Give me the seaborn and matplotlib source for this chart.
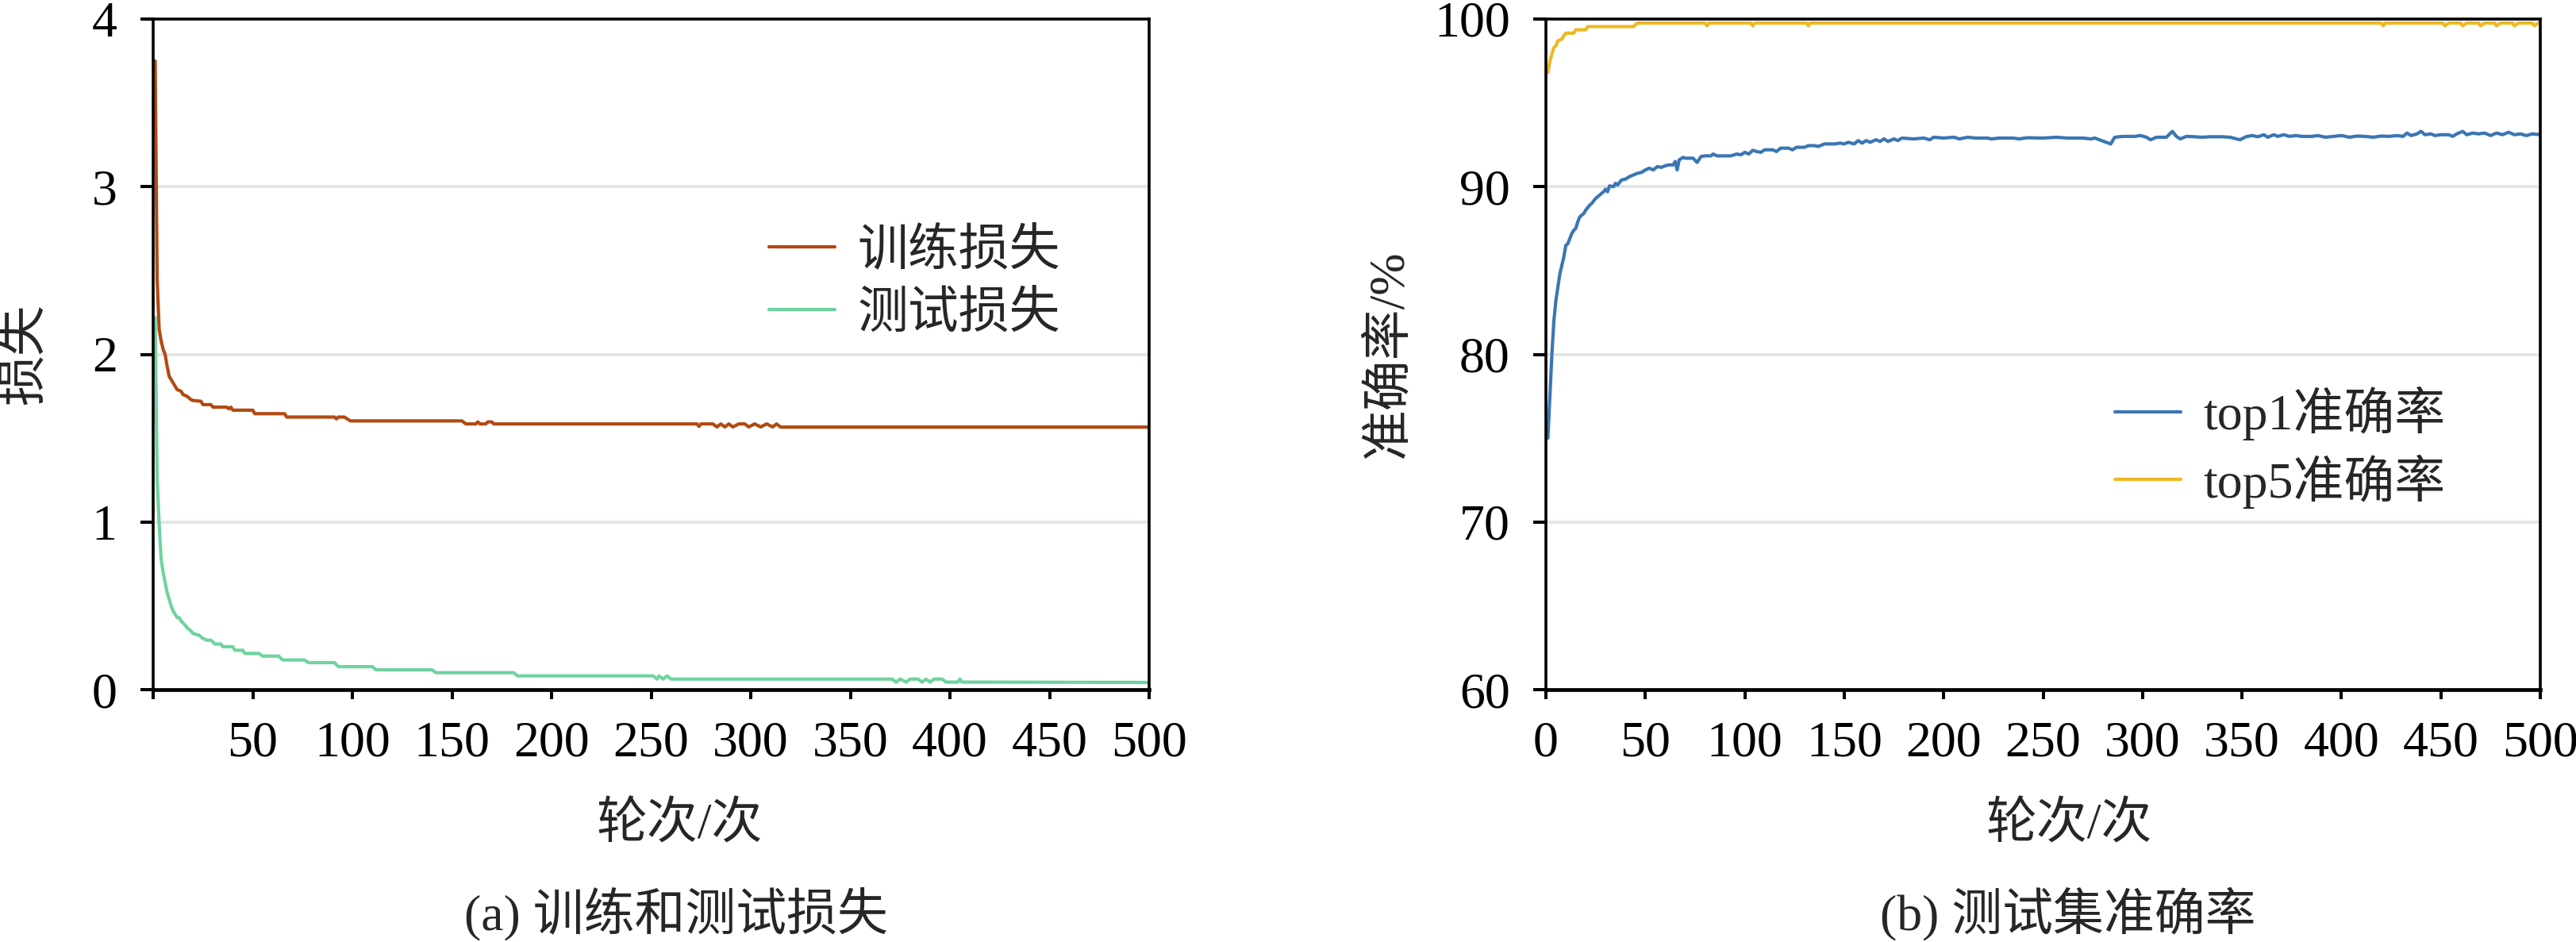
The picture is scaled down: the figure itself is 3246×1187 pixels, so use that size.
import matplotlib
matplotlib.use('Agg')
import matplotlib.pyplot as plt
import seaborn as sns

# ---- data ----
train_epoch = [1, 2, 3, 4, 5, 6, 7, 8, 9, 11, 12, 14, 15, 17, 19, 20, 24, 25, 29, 30, 37, 38, 39, 40,
               50, 51, 66, 67, 91, 92, 93, 96, 99, 155, 157, 162, 163, 164, 167, 168, 170, 171, 273, 274,
               275, 281, 283, 285, 287, 289, 291, 294, 297, 299, 302, 305, 308, 311, 313, 315, 500]
train_loss = [3.75, 2.45, 2.15, 2.08, 2.03, 2.0, 1.93, 1.87, 1.85, 1.81, 1.79, 1.78, 1.76, 1.75, 1.73,
              1.725, 1.72, 1.70, 1.70, 1.685, 1.685, 1.675, 1.685, 1.667, 1.667, 1.646, 1.646, 1.626,
              1.626, 1.615, 1.626, 1.626, 1.603, 1.603, 1.585, 1.585, 1.597, 1.585, 1.585, 1.597, 1.597,
              1.585, 1.585, 1.57, 1.585, 1.585, 1.567, 1.585, 1.567, 1.585, 1.567, 1.585, 1.585, 1.567,
              1.585, 1.567, 1.585, 1.567, 1.585, 1.566, 1.566]

test_epoch = [1, 2, 3, 4, 5, 6, 7, 8, 9, 10, 12, 13, 14, 16, 17, 19, 20, 23, 25, 27, 29, 31, 34, 35,
              40, 41, 45, 46, 53, 55, 63, 65, 76, 78, 91, 93, 110, 112, 140, 142, 181, 183, 251, 253,
              254, 256, 258, 260, 371, 373, 375, 378, 380, 384, 386, 388, 390, 392, 396, 398, 404, 405,
              406, 500]
test_loss = [2.22, 1.26, 0.99, 0.78, 0.70, 0.64, 0.58, 0.54, 0.50, 0.47, 0.43, 0.43, 0.41, 0.385, 0.37,
             0.35, 0.335, 0.325, 0.305, 0.295, 0.295, 0.272, 0.272, 0.256, 0.256, 0.235, 0.235, 0.216,
             0.216, 0.20, 0.20, 0.177, 0.177, 0.161, 0.161, 0.137, 0.137, 0.118, 0.118, 0.101, 0.101,
             0.082, 0.082, 0.063, 0.082, 0.063, 0.082, 0.063, 0.063, 0.045, 0.063, 0.045, 0.063, 0.063,
             0.045, 0.063, 0.045, 0.063, 0.063, 0.045, 0.045, 0.063, 0.045, 0.043]

top1_epoch = [1, 2, 3, 4, 5, 6, 7, 8, 9, 10, 11, 12, 13, 14, 15, 16, 17, 18, 19, 20, 22, 23, 25, 27,
              29, 30, 31, 32, 34, 35, 36, 38, 40, 42, 44, 46, 48, 50, 52, 54, 56, 58, 60, 62, 64, 65,
              66, 67, 69, 70, 74, 76, 78, 80, 83, 84, 86, 93, 96, 98, 100, 102, 104, 106, 108, 110,
              114, 116, 118, 122, 124, 126, 130, 132, 135, 137, 140, 145, 148, 150, 152, 155, 157,
              159, 161, 163, 166, 168, 170, 172, 175, 177, 179, 185, 190, 193, 195, 200, 205, 208,
              212, 216, 222, 224, 228, 235, 238, 242, 250, 257, 262, 270, 274, 276, 284, 286, 290,
              296, 299, 302, 304, 307, 312, 315, 317, 319, 322, 326, 330, 334, 340, 344, 349, 352,
              355, 358, 361, 363, 366, 368, 371, 374, 377, 380, 385, 388, 392, 396, 400, 404, 408,
              412, 416, 420, 424, 428, 431, 433, 435, 438, 440, 442, 445, 447, 450, 454, 456, 458,
              461, 463, 466, 469, 472, 475, 478, 481, 484, 487, 490, 493, 496, 500]
top1_acc = [75.0, 77.5, 80.0, 82.0, 83.2, 84.0, 84.8, 85.3, 85.8, 86.5, 86.6, 86.9, 87.2, 87.4, 87.5,
            87.9, 88.2, 88.3, 88.4, 88.6, 88.9, 89.0, 89.3, 89.5, 89.7, 89.85, 89.7, 90.05, 90.0,
            90.2, 90.1, 90.4, 90.45, 90.6, 90.7, 90.8, 90.85, 91.0, 91.1, 91.0, 91.2, 91.15, 91.25,
            91.3, 91.3, 91.5, 91.0, 91.6, 91.75, 91.7, 91.7, 91.45, 91.8, 91.84, 91.84, 91.95, 91.84,
            91.84, 91.95, 91.9, 92.05, 91.95, 92.17, 92.1, 92.05, 92.2, 92.2, 92.1, 92.3, 92.3, 92.2,
            92.35, 92.35, 92.45, 92.45, 92.4, 92.55, 92.55, 92.6, 92.55, 92.65, 92.55, 92.75, 92.6,
            92.75, 92.65, 92.8, 92.7, 92.85, 92.7, 92.85, 92.75, 92.9, 92.85, 92.9, 92.8, 92.95,
            92.9, 92.95, 92.85, 92.95, 92.9, 92.9, 92.85, 92.9, 92.9, 92.85, 92.92, 92.9, 92.95,
            92.9, 92.9, 92.85, 92.9, 92.55, 92.95, 93.0, 93.0, 93.05, 92.95, 92.8, 92.95, 92.95,
            93.3, 93.0, 92.85, 93.0, 92.98, 92.95, 92.98, 92.98, 92.95, 92.8, 92.98, 93.05, 92.98,
            93.1, 92.95, 93.1, 93.0, 93.1, 93.0, 93.05, 93.0, 93.0, 93.05, 92.95, 93.0, 93.05, 92.95,
            93.02, 93.0, 92.95, 93.02, 93.0, 93.05, 93.0, 93.2, 93.05, 93.15, 93.3, 93.1, 93.15,
            93.05, 93.1, 93.1, 93.0, 93.15, 93.3, 93.1, 93.2, 93.15, 93.2, 93.05, 93.2, 93.1, 93.25,
            93.1, 93.15, 93.05, 93.15, 93.1]

top5_epoch = [1, 2, 3, 4, 5, 6, 8, 9, 10, 14, 15, 20, 21, 44, 46, 80, 81, 82, 103, 104, 105, 131,
              132, 133, 420, 421, 422, 451, 452, 454, 460, 461, 463, 469, 470, 472, 477, 478, 480,
              486, 487, 489, 496, 497, 499, 500]
top5_acc = [96.8, 97.5, 97.9, 98.3, 98.4, 98.7, 98.8, 99.0, 99.16, 99.16, 99.36, 99.36, 99.55, 99.55,
            99.76, 99.76, 99.6, 99.76, 99.76, 99.6, 99.76, 99.76, 99.6, 99.76, 99.76, 99.6, 99.76,
            99.76, 99.6, 99.76, 99.76, 99.6, 99.76, 99.76, 99.6, 99.76, 99.76, 99.6, 99.76, 99.76,
            99.6, 99.76, 99.76, 99.6, 99.76, 99.76]

loss_yticks = [0, 1, 2, 3, 4]
acc_yticks = [60, 70, 80, 90, 100]
epoch_ticks = [0, 50, 100, 150, 200, 250, 300, 350, 400, 450, 500]
left_xlabels = [''] + [str(t) for t in epoch_ticks[1:]]

sns.set_style('ticks')
plt.rcParams['font.family'] = ['Liberation Serif', 'Noto Sans CJK SC']
plt.rcParams['axes.unicode_minus'] = False
FS = 46
LW = 3.0

fig = plt.figure(figsize=(32.46, 11.87), dpi=100)
W, H = 3246, 1187
ax1 = fig.add_axes([193 / W, 1 - 869 / H, 1255 / W, 845 / H])
ax2 = fig.add_axes([1948 / W, 1 - 869 / H, 1253 / W, 845 / H])

sns.lineplot(x=train_epoch, y=train_loss, ax=ax1, color='#b24a12', linewidth=LW, label='训练损失')
sns.lineplot(x=test_epoch, y=test_loss, ax=ax1, color='#6fd39f', linewidth=LW, label='测试损失')
sns.lineplot(x=top1_epoch, y=top1_acc, ax=ax2, color='#3b76b3', linewidth=LW, label='top1准确率')
sns.lineplot(x=top5_epoch, y=top5_acc, ax=ax2, color='#edb824', linewidth=LW, label='top5准确率')

for ax, yt in [(ax1, loss_yticks), (ax2, acc_yticks)]:
    ax.set_xlim(0, 500)
    ax.set_ylim(yt[0], yt[-1])
    ax.set_yticks(yt)
    ax.set_xticks(epoch_ticks)
    ax.set_axisbelow(True)
    ax.yaxis.grid(True, color='#dfe6e3', linewidth=2.6)
    ax.xaxis.grid(False)
    for side in ['left', 'top', 'right']:
        ax.spines[side].set_linewidth(2.6)
        ax.spines[side].set_color('black')
    ax.spines['bottom'].set_linewidth(3.4)
    ax.spines['bottom'].set_color('black')
    ax.tick_params(axis='y', direction='out', length=11.5, width=2.9, pad=21, labelsize=FS, colors='black')
    ax.tick_params(axis='x', direction='out', length=8.6, width=2.9, pad=20, labelsize=FS, colors='black')
    ax.set_xlabel('')
    ax.set_ylabel('')

ax1.set_xticklabels(left_xlabels)
ax2.set_xticklabels([str(t) for t in epoch_ticks])

ax1.legend(loc='upper left', bbox_to_anchor=(0.618, 0.688), frameon=False, fontsize=FS,
           borderpad=0, borderaxespad=0, handlelength=1.3, handletextpad=0.45, labelspacing=0.31)
ax2.legend(loc='upper left', bbox_to_anchor=(0.572, 0.452), frameon=False, fontsize=FS,
           borderpad=0, borderaxespad=0, handlelength=1.3, handletextpad=0.45, labelspacing=0.27)

fig.text(32 / W, 1 - 446 / H, '损失', rotation=90, ha='center', va='center', fontsize=FS)
fig.text(1751 / W, 1 - 446 / H, '准确率/%', rotation=90, ha='center', va='center', fontsize=FS)
fig.text(856 / W, 1 - 1041 / H, '轮次/次', ha='center', va='center', fontsize=FS)
fig.text(2607 / W, 1 - 1041 / H, '轮次/次', ha='center', va='center', fontsize=FS)
fig.text(852 / W, 1 - 1152 / H, '(a) 训练和测试损失', ha='center', va='center', fontsize=FS)
fig.text(2606 / W, 1 - 1152 / H, '(b) 测试集准确率', ha='center', va='center', fontsize=FS)

fig.savefig('out.png', dpi=100, facecolor='white')
